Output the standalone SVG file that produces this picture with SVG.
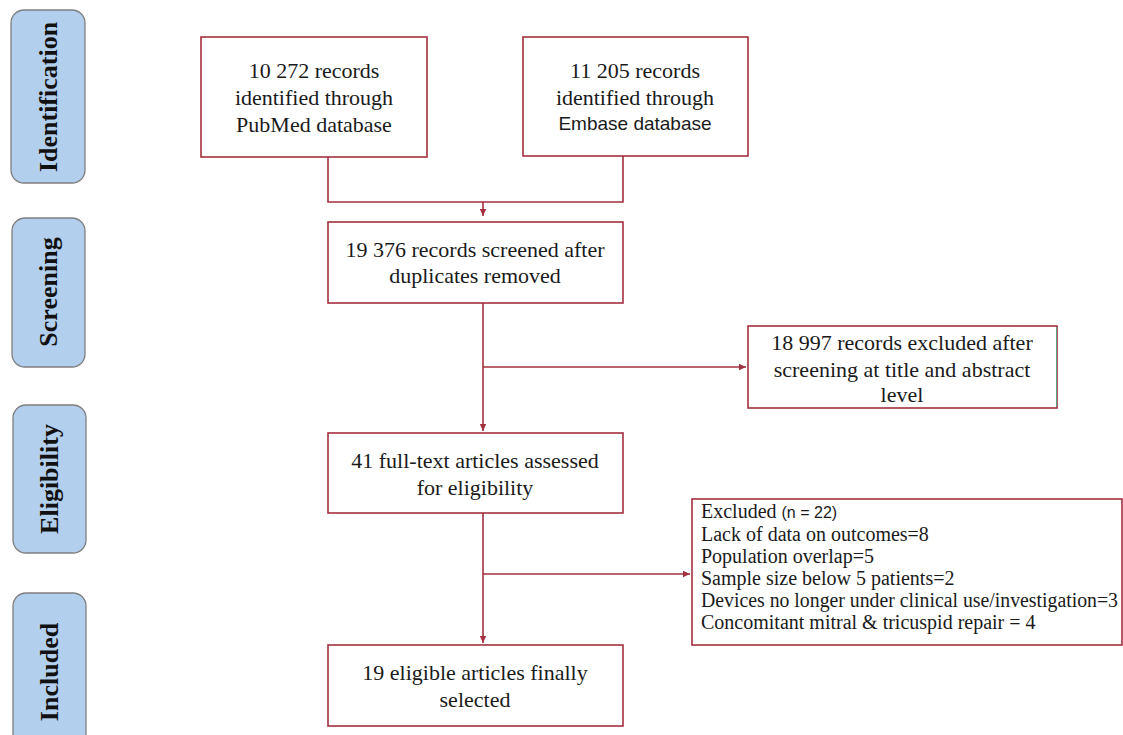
<svg xmlns="http://www.w3.org/2000/svg" width="1123" height="735" viewBox="0 0 1123 735">
<defs>
<marker id="ah" markerWidth="8" markerHeight="8" refX="7" refY="4" orient="auto" markerUnits="userSpaceOnUse">
<path d="M0,0.8 L7,4 L0,7.2 Z" fill="#a3303f"/>
</marker>
<style>
.stage{fill:#b3cfee;stroke:#7f7f7f;stroke-width:1.3}
.stxt{font-family:'Liberation Serif','Times New Roman',serif;font-weight:bold;font-size:26px;fill:#111;text-anchor:middle;dominant-baseline:central}
.box{fill:#fff;stroke:#a3303f;stroke-width:1.6}
.t{font-family:'Liberation Serif','Times New Roman',serif;font-size:22px;fill:#1a1a1a;text-anchor:middle}
.ts{font-family:'Liberation Sans',Arial,sans-serif;font-size:19px;fill:#1a1a1a;text-anchor:middle}
.tl{font-family:'Liberation Serif','Times New Roman',serif;font-size:20px;fill:#1a1a1a}
.tls{font-family:'Liberation Sans',Arial,sans-serif;font-size:16px}
.c{fill:none;stroke:#a3303f;stroke-width:1.6}
</style>
</defs>
<rect width="1123" height="735" fill="#fff"/>
<g id="stage-identification"><rect class="stage" x="11" y="10" width="74" height="173" rx="13"/><text class="stxt" transform="translate(48,97) rotate(-90)">Identification</text></g>
<g id="stage-screening"><rect class="stage" x="12" y="218" width="73" height="149" rx="13"/><text class="stxt" transform="translate(48,292) rotate(-90)">Screening</text></g>
<g id="stage-eligibility"><rect class="stage" x="13" y="405" width="73" height="148" rx="13"/><text class="stxt" transform="translate(49,479) rotate(-90)">Eligibility</text></g>
<g id="stage-included"><rect class="stage" x="13" y="593" width="73" height="160" rx="13"/><text class="stxt" transform="translate(49,672) rotate(-90)">Included</text></g>

<g id="connectors">
<path class="c" d="M328,157 V202 H623 V156"/>
<path class="c" d="M483,202 V216" marker-end="url(#ah)"/>
<path class="c" d="M483,303 V431" marker-end="url(#ah)"/>
<path class="c" d="M483,367 H746" marker-end="url(#ah)"/>
<path class="c" d="M483,513 V643" marker-end="url(#ah)"/>
<path class="c" d="M483,574 H690" marker-end="url(#ah)"/>
</g>

<g id="n-pubmed"><rect class="box" x="201" y="37" width="226" height="120"/>
<text class="t" x="314" y="78">10 272 records</text>
<text class="t" x="314" y="105">identified through</text>
<text class="t" x="314" y="132">PubMed database</text></g>
<g id="n-embase"><rect class="box" x="523" y="37" width="225" height="119"/>
<text class="t" x="635" y="78">11 205 records</text>
<text class="t" x="635" y="105">identified through</text>
<text class="ts" x="635" y="130">Embase database</text></g>
<g id="n-screened"><rect class="box" x="328" y="222" width="295" height="81"/>
<text class="t" x="475" y="257">19 376 records screened after</text>
<text class="t" x="475" y="283">duplicates removed</text></g>
<g id="n-excluded1"><rect class="box" x="748" y="326" width="309" height="82"/>
<line x1="1056.5" y1="327" x2="1056.5" y2="407" stroke="#5aa58a" stroke-width="1"/>
<text class="t" x="902" y="350">18 997 records excluded after</text>
<text class="t" x="902" y="377">screening at title and abstract</text>
<text class="t" x="902" y="402">level</text></g>
<g id="n-fulltext"><rect class="box" x="328" y="433" width="295" height="80"/>
<text class="t" x="475" y="468">41 full-text articles assessed</text>
<text class="t" x="475" y="495">for eligibility</text></g>
<g id="n-excluded2"><rect class="box" x="692" y="499" width="430" height="146"/>
<text class="tl" x="701" y="518">Excluded <tspan class="tls">(n = 22)</tspan></text>
<text class="tl" x="701" y="541">Lack of data on outcomes=8</text>
<text class="tl" x="701" y="563">Population overlap=5</text>
<text class="tl" x="701" y="585">Sample size below 5 patients=2</text>
<text class="tl" x="701" y="607" textLength="417" lengthAdjust="spacingAndGlyphs">Devices no longer under clinical use/investigation=3</text>
<text class="tl" x="701" y="629">Concomitant mitral &amp; tricuspid repair = 4</text></g>
<g id="n-included"><rect class="box" x="328" y="645" width="295" height="81"/>
<text class="t" x="475" y="680">19 eligible articles finally</text>
<text class="t" x="475" y="707">selected</text></g>
</svg>
